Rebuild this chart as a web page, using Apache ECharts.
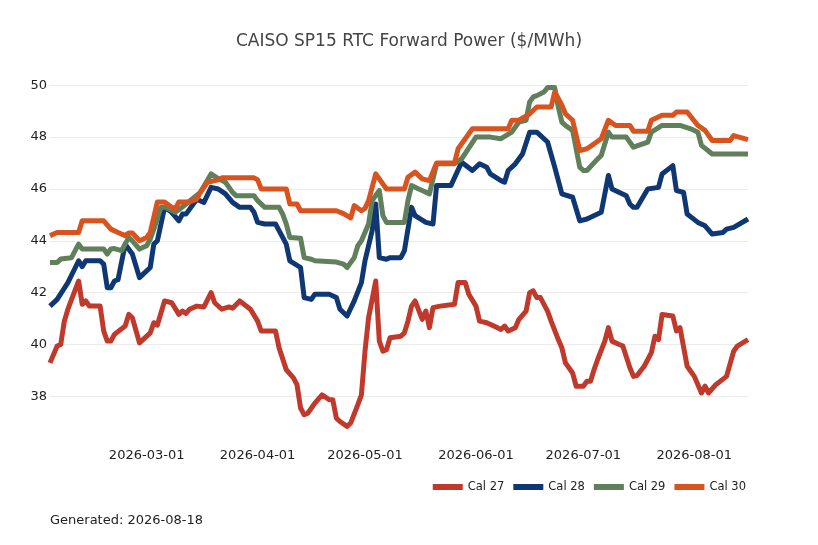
<!DOCTYPE html>
<html>
<head>
<meta charset="utf-8">
<title>CAISO SP15 RTC Forward Power</title>
<script src="https://cdn.jsdelivr.net/npm/echarts@6/dist/echarts.min.js"></script>
<style>
  html, body { margin: 0; padding: 0; background: #fff; }
  #chart { width: 818px; height: 545px; }
</style>
</head>
<body>
<div id="chart"></div>
<script>
// 系列名称
var seriesNames = ['Cal 27', 'Cal 28', 'Cal 29', 'Cal 30'];
var seriesColors = ['#c0392b', '#0e3773', '#607f5b', '#d9531e'];
// y轴刻度
var yTicks = [38, 40, 42, 44, 46, 48, 50];

// Cal 27
var cal27 = [
  ['2026-02-02', 39.29], ['2026-02-04', 39.94], ['2026-02-05', 40.0], ['2026-02-06', 40.9],
  ['2026-02-07', 41.36], ['2026-02-10', 42.45], ['2026-02-11', 41.55], ['2026-02-12', 41.68],
  ['2026-02-13', 41.48], ['2026-02-16', 41.48], ['2026-02-17', 40.52], ['2026-02-18', 40.13],
  ['2026-02-19', 40.13], ['2026-02-20', 40.39], ['2026-02-23', 40.71], ['2026-02-24', 41.16],
  ['2026-02-25', 41.03], ['2026-02-27', 40.06], ['2026-03-02', 40.45], ['2026-03-03', 40.84],
  ['2026-03-04', 40.75], ['2026-03-06', 41.68], ['2026-03-08', 41.61], ['2026-03-10', 41.16],
  ['2026-03-11', 41.29], ['2026-03-12', 41.2], ['2026-03-13', 41.36], ['2026-03-15', 41.48],
  ['2026-03-17', 41.45], ['2026-03-19', 42.0], ['2026-03-20', 41.61], ['2026-03-22', 41.36],
  ['2026-03-24', 41.45], ['2026-03-25', 41.4], ['2026-03-27', 41.68], ['2026-03-30', 41.36],
  ['2026-04-01', 40.9], ['2026-04-02', 40.52], ['2026-04-06', 40.52], ['2026-04-07', 39.87],
  ['2026-04-09', 39.03], ['2026-04-11', 38.71], ['2026-04-12', 38.45], ['2026-04-13', 37.55],
  ['2026-04-14', 37.29], ['2026-04-15', 37.35], ['2026-04-17', 37.74], ['2026-04-19', 38.06],
  ['2026-04-21', 37.87], ['2026-04-22', 37.87], ['2026-04-23', 37.16], ['2026-04-24', 37.03],
  ['2026-04-26', 36.84], ['2026-04-27', 36.97], ['2026-04-29', 37.68], ['2026-04-30', 38.06],
  ['2026-05-01', 39.74], ['2026-05-02', 41.03], ['2026-05-04', 42.45], ['2026-05-05', 40.13],
  ['2026-05-06', 39.74], ['2026-05-07', 39.8], ['2026-05-08', 40.26], ['2026-05-11', 40.32],
  ['2026-05-12', 40.45], ['2026-05-13', 40.9], ['2026-05-14', 41.48], ['2026-05-15', 41.68],
  ['2026-05-17', 40.97], ['2026-05-18', 41.29], ['2026-05-19', 40.65], ['2026-05-20', 41.42],
  ['2026-05-22', 41.48], ['2026-05-26', 41.55], ['2026-05-27', 42.39], ['2026-05-29', 42.39],
  ['2026-05-30', 41.94], ['2026-06-01', 41.48], ['2026-06-02', 40.9], ['2026-06-04', 40.84],
  ['2026-06-06', 40.71], ['2026-06-08', 40.58], ['2026-06-09', 40.71], ['2026-06-10', 40.52],
  ['2026-06-12', 40.65], ['2026-06-13', 40.97], ['2026-06-15', 41.29], ['2026-06-16', 42.0],
  ['2026-06-17', 42.07], ['2026-06-18', 41.81], ['2026-06-19', 41.81], ['2026-06-21', 41.29],
  ['2026-06-22', 40.9], ['2026-06-24', 40.19], ['2026-06-25', 39.87], ['2026-06-26', 39.29],
  ['2026-06-28', 38.9], ['2026-06-29', 38.39], ['2026-07-01', 38.39], ['2026-07-02', 38.58],
  ['2026-07-03', 38.58], ['2026-07-04', 39.03], ['2026-07-05', 39.42], ['2026-07-07', 40.13],
  ['2026-07-08', 40.65], ['2026-07-09', 40.13], ['2026-07-11', 40.0], ['2026-07-12', 39.95],
  ['2026-07-14', 39.1], ['2026-07-15', 38.77], ['2026-07-16', 38.8], ['2026-07-18', 39.16],
  ['2026-07-20', 39.68], ['2026-07-21', 40.32], ['2026-07-22', 40.19], ['2026-07-23', 41.16],
  ['2026-07-26', 41.1], ['2026-07-27', 40.52], ['2026-07-28', 40.65], ['2026-07-30', 39.16],
  ['2026-08-01', 38.77], ['2026-08-03', 38.13], ['2026-08-04', 38.39], ['2026-08-05', 38.13],
  ['2026-08-07', 38.45], ['2026-08-10', 38.77], ['2026-08-12', 39.74], ['2026-08-13', 39.94],
  ['2026-08-16', 40.19]
];

// Cal 28
var cal28 = [
  ['2026-02-02', 41.48], ['2026-02-04', 41.74], ['2026-02-07', 42.39], ['2026-02-10', 43.23],
  ['2026-02-11', 43.0], ['2026-02-12', 43.23], ['2026-02-16', 43.23], ['2026-02-17', 43.1],
  ['2026-02-18', 42.19], ['2026-02-19', 42.19], ['2026-02-20', 42.45], ['2026-02-21', 42.5],
  ['2026-02-23', 43.87], ['2026-02-25', 43.49], ['2026-02-27', 42.58], ['2026-03-02', 42.97],
  ['2026-03-03', 43.87], ['2026-03-04', 44.0], ['2026-03-06', 45.29], ['2026-03-08', 45.1],
  ['2026-03-10', 44.77], ['2026-03-11', 45.03], ['2026-03-12', 45.03], ['2026-03-15', 45.6],
  ['2026-03-17', 45.48], ['2026-03-19', 46.06], ['2026-03-21', 46.0], ['2026-03-23', 45.81],
  ['2026-03-25', 45.48], ['2026-03-27', 45.29], ['2026-03-30', 45.29], ['2026-03-31', 45.1],
  ['2026-04-01', 44.71], ['2026-04-03', 44.65], ['2026-04-06', 44.65], ['2026-04-07', 44.39],
  ['2026-04-09', 43.87], ['2026-04-10', 43.23], ['2026-04-13', 42.97], ['2026-04-14', 41.81],
  ['2026-04-16', 41.74], ['2026-04-17', 41.94], ['2026-04-21', 41.94], ['2026-04-23', 41.81],
  ['2026-04-24', 41.36], ['2026-04-26', 41.1], ['2026-04-28', 41.68], ['2026-04-30', 42.39],
  ['2026-05-01', 43.23], ['2026-05-03', 44.39], ['2026-05-04', 45.42], ['2026-05-05', 43.35],
  ['2026-05-07', 43.29], ['2026-05-08', 43.35], ['2026-05-11', 43.35], ['2026-05-12', 43.61],
  ['2026-05-14', 45.29], ['2026-05-15', 44.97], ['2026-05-18', 44.71], ['2026-05-20', 44.65],
  ['2026-05-21', 46.13], ['2026-05-25', 46.13], ['2026-05-28', 47.03], ['2026-05-31', 46.71],
  ['2026-06-02', 46.97], ['2026-06-04', 46.84], ['2026-06-05', 46.58], ['2026-06-08', 46.32],
  ['2026-06-09', 46.26], ['2026-06-10', 46.71], ['2026-06-12', 46.97], ['2026-06-14', 47.35],
  ['2026-06-16', 48.19], ['2026-06-18', 48.19], ['2026-06-21', 47.81], ['2026-06-23', 46.84],
  ['2026-06-25', 45.81], ['2026-06-28', 45.68], ['2026-06-30', 44.77], ['2026-07-02', 44.84],
  ['2026-07-06', 45.1], ['2026-07-07', 45.81], ['2026-07-08', 46.52], ['2026-07-09', 46.0],
  ['2026-07-13', 45.74], ['2026-07-14', 45.42], ['2026-07-15', 45.29], ['2026-07-16', 45.29],
  ['2026-07-19', 46.0], ['2026-07-22', 46.06], ['2026-07-23', 46.58], ['2026-07-26', 46.9],
  ['2026-07-27', 45.94], ['2026-07-29', 45.87], ['2026-07-30', 45.03], ['2026-08-02', 44.71],
  ['2026-08-04', 44.58], ['2026-08-06', 44.26], ['2026-08-09', 44.32], ['2026-08-10', 44.45],
  ['2026-08-12', 44.52], ['2026-08-16', 44.84]
];

// Cal 29
var cal29 = [
  ['2026-02-02', 43.16], ['2026-02-04', 43.16], ['2026-02-05', 43.3], ['2026-02-08', 43.35],
  ['2026-02-10', 43.87], ['2026-02-11', 43.68], ['2026-02-17', 43.68], ['2026-02-18', 43.49],
  ['2026-02-19', 43.68], ['2026-02-20', 43.7], ['2026-02-22', 43.62], ['2026-02-24', 44.13],
  ['2026-02-25', 44.0], ['2026-02-27', 43.68], ['2026-03-01', 43.81], ['2026-03-02', 44.06],
  ['2026-03-03', 44.45], ['2026-03-05', 45.29], ['2026-03-06', 45.3], ['2026-03-09', 45.1],
  ['2026-03-10', 45.2], ['2026-03-12', 45.42], ['2026-03-16', 45.87], ['2026-03-19', 46.58],
  ['2026-03-21', 46.4], ['2026-03-23', 46.26], ['2026-03-25', 45.87], ['2026-03-26', 45.74],
  ['2026-03-31', 45.74], ['2026-04-01', 45.55], ['2026-04-03', 45.29], ['2026-04-07', 45.29],
  ['2026-04-08', 45.03], ['2026-04-09', 44.65], ['2026-04-10', 44.13], ['2026-04-13', 44.1],
  ['2026-04-14', 43.35], ['2026-04-16', 43.29], ['2026-04-17', 43.23], ['2026-04-23', 43.18],
  ['2026-04-25', 43.1], ['2026-04-26', 42.97], ['2026-04-28', 43.35], ['2026-04-29', 43.81],
  ['2026-04-30', 44.0], ['2026-05-02', 44.65], ['2026-05-03', 45.55], ['2026-05-05', 45.94],
  ['2026-05-06', 44.97], ['2026-05-07', 44.71], ['2026-05-12', 44.71], ['2026-05-13', 45.55],
  ['2026-05-14', 46.13], ['2026-05-16', 46.0], ['2026-05-17', 45.94], ['2026-05-19', 45.81],
  ['2026-05-21', 46.97], ['2026-05-26', 46.97], ['2026-05-28', 47.16], ['2026-06-01', 48.0],
  ['2026-06-05', 48.0], ['2026-06-08', 47.94], ['2026-06-11', 48.19], ['2026-06-13', 48.58],
  ['2026-06-15', 48.65], ['2026-06-16', 49.36], ['2026-06-17', 49.55], ['2026-06-18', 49.6],
  ['2026-06-20', 49.74], ['2026-06-21', 49.91], ['2026-06-23', 49.91], ['2026-06-24', 49.16],
  ['2026-06-25', 48.58], ['2026-06-26', 48.45], ['2026-06-28', 48.26], ['2026-06-30', 46.84],
  ['2026-07-01', 46.71], ['2026-07-02', 46.71], ['2026-07-05', 47.16], ['2026-07-06', 47.29],
  ['2026-07-08', 48.19], ['2026-07-09', 48.0], ['2026-07-13', 48.0], ['2026-07-15', 47.61],
  ['2026-07-19', 47.81], ['2026-07-20', 48.19], ['2026-07-23', 48.45], ['2026-07-28', 48.45],
  ['2026-07-31', 48.32], ['2026-08-02', 48.19], ['2026-08-03', 47.68], ['2026-08-06', 47.35],
  ['2026-08-16', 47.35]
];

// Cal 30
var cal30 = [
  ['2026-02-02', 44.2], ['2026-02-04', 44.32], ['2026-02-10', 44.32], ['2026-02-11', 44.77],
  ['2026-02-17', 44.77], ['2026-02-19', 44.45], ['2026-02-21', 44.32], ['2026-02-23', 44.2],
  ['2026-02-24', 44.3], ['2026-02-25', 44.3], ['2026-02-27', 44.0], ['2026-03-01', 44.13],
  ['2026-03-02', 44.32], ['2026-03-04', 45.5], ['2026-03-06', 45.5], ['2026-03-08', 45.29],
  ['2026-03-09', 45.23], ['2026-03-10', 45.5], ['2026-03-13', 45.5], ['2026-03-15', 45.61],
  ['2026-03-16', 45.87], ['2026-03-18', 46.26], ['2026-03-21', 46.35], ['2026-03-22', 46.43],
  ['2026-03-31', 46.43], ['2026-04-01', 46.35], ['2026-04-02', 46.0], ['2026-04-09', 46.0],
  ['2026-04-10', 45.42], ['2026-04-12', 45.42], ['2026-04-13', 45.16], ['2026-04-23', 45.16],
  ['2026-04-25', 45.05], ['2026-04-27', 44.88], ['2026-04-28', 45.36], ['2026-04-30', 45.16],
  ['2026-05-01', 45.25], ['2026-05-02', 45.55], ['2026-05-04', 46.58], ['2026-05-07', 46.0],
  ['2026-05-12', 46.0], ['2026-05-13', 46.45], ['2026-05-15', 46.65], ['2026-05-17', 46.39],
  ['2026-05-19', 46.32], ['2026-05-21', 47.0], ['2026-05-26', 47.0], ['2026-05-27', 47.55],
  ['2026-05-31', 48.32], ['2026-06-10', 48.32], ['2026-06-11', 48.65], ['2026-06-13', 48.65],
  ['2026-06-16', 48.9], ['2026-06-18', 49.16], ['2026-06-22', 49.16], ['2026-06-23', 49.74],
  ['2026-06-25', 49.23], ['2026-06-26', 48.9], ['2026-06-28', 48.65], ['2026-06-30', 47.48],
  ['2026-07-02', 47.55], ['2026-07-04', 47.74], ['2026-07-06', 47.94], ['2026-07-08', 48.65],
  ['2026-07-10', 48.45], ['2026-07-14', 48.45], ['2026-07-15', 48.23], ['2026-07-19', 48.23],
  ['2026-07-20', 48.65], ['2026-07-23', 48.84], ['2026-07-26', 48.84], ['2026-07-27', 48.97],
  ['2026-07-30', 48.97], ['2026-08-02', 48.45], ['2026-08-04', 48.26], ['2026-08-06', 47.87],
  ['2026-08-11', 47.87], ['2026-08-12', 48.06], ['2026-08-16', 47.9]
];

var seriesData = [cal27, cal28, cal29, cal30];
var generatedText = 'Generated: 2026-08-18';

var fontFamily = 'DejaVu Sans';
var myChart = echarts.init(document.getElementById('chart'));

var series = [];
for (var i = 0; i < seriesNames.length; i++) {
  series.push({
    name: seriesNames[i],
    type: 'line',
    data: seriesData[i],
    showSymbol: false,
    symbol: 'none',
    lineStyle: { width: 5, color: seriesColors[i], join: 'round' },
    itemStyle: { color: seriesColors[i] }
  });
}

var option = {
  backgroundColor: '#fff',
  animation: false,
  textStyle: { fontFamily: fontFamily },
  title: {
    text: 'CAISO SP15 RTC Forward Power ($/MWh)',
    left: 'center',
    top: 28,
    textStyle: { fontSize: 17, fontWeight: 'normal', color: '#444', fontFamily: fontFamily }
  },
  graphic: [{
    type: 'text',
    left: 50,
    top: 514,
    style: { text: generatedText, font: '13px "DejaVu Sans"', fill: '#222' }
  }],
  legend: {
    data: seriesNames,
    right: 67,
    top: 476,
    icon: 'rect',
    itemWidth: 30,
    itemHeight: 6,
    itemGap: 9,
    textStyle: { fontSize: 11.5, color: '#222', fontFamily: fontFamily }
  },
  grid: { left: 50, right: 70, top: 71, bottom: 102, containLabel: false },
  xAxis: {
    type: 'time',
    min: '2026-02-02',
    max: '2026-08-16',
    minInterval: 28 * 86400000,
    maxInterval: 31 * 86400000,
    axisLine: { show: false },
    axisTick: { show: false },
    splitLine: { show: false },
    axisLabel: {
      formatter: '{yyyy}-{MM}-{dd}',
      fontSize: 13,
      color: '#222',
      margin: 6,
      showMinLabel: false,
      showMaxLabel: false,
      hideOverlap: false
    }
  },
  yAxis: {
    type: 'value',
    min: 36.2,
    max: 50.55,
    axisLine: { show: false },
    axisTick: { show: false, customValues: yTicks },
    axisLabel: {
      fontSize: 13,
      color: '#222',
      margin: 3,
      customValues: yTicks
    },
    splitLine: { show: true, lineStyle: { color: '#ebebeb', width: 1 } }
  },
  series: series
};

myChart.setOption(option);
</script>
</body>
</html>
